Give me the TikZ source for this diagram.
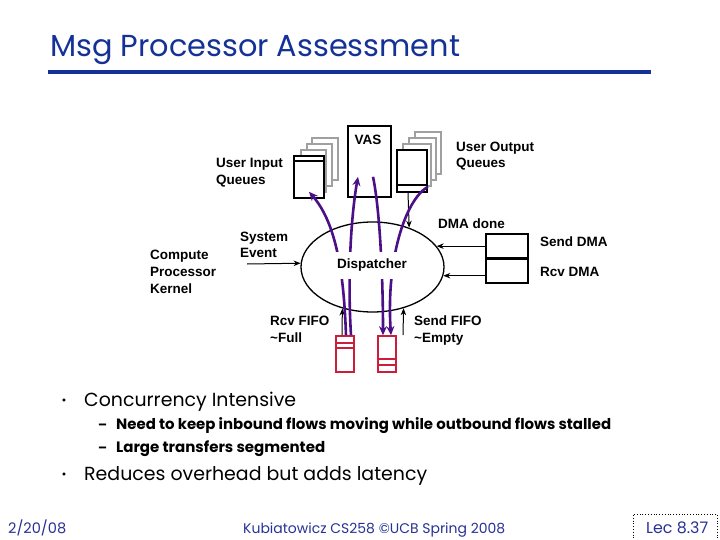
\documentclass[tikz,border=0pt]{standalone}
\usepackage{fontspec}
\usepackage{graphicx}
\setmainfont{Liberation Sans}
\newfontfamily\comicf{Poppins}
\usetikzlibrary{arrows.meta,shapes.geometric}
\definecolor{titleblue}{RGB}{20,50,150}
\definecolor{footblue}{RGB}{40,50,150}
\definecolor{flowpurple}{RGB}{75,15,135}
\definecolor{fifored}{RGB}{204,30,60}
\definecolor{stackgray}{RGB}{160,160,160}
\newcommand\fitw[2]{\resizebox{#1}{!}{#2}}
\begin{document}
\begin{tikzpicture}[x=1pt,y=-1pt,
  lbl/.style={font=\bfseries\fontsize{13.5}{17}\selectfont, inner sep=0pt, align=left, anchor=base west},
  queuebox/.style={draw, line width=1.6pt, fill=white, minimum width=30pt, minimum height=42pt, inner sep=0pt},
  ghost/.style={draw=stackgray, line width=1.6pt, fill=white},
  fifobox/.style={draw=fifored, line width=1.6pt, fill=white, minimum width=18pt, minimum height=36pt, inner sep=0pt},
  flow/.style={draw=flowpurple, line width=2.6pt, -{Stealth[length=9pt,width=8pt]}},
  sig/.style={draw=black, line width=1pt, -{Stealth[length=7pt,width=5.5pt]}},
  comictext/.style={inner sep=0pt, anchor=base west},
]
\useasboundingbox (0,0) rectangle (720,540);
\fill[white] (0,0) rectangle (720,540);

% title
\node[comictext, text=titleblue] (title) at (50,57) {\comicf\fitw{410pt}{Msg Processor Assessment}};
\draw[titleblue, line width=4pt] (48,72) -- (651,72);

% VAS
\node[draw, line width=1.6pt, minimum width=43pt, minimum height=71pt, inner sep=0pt] (vas) at (369.5,161.5) {};
\node[lbl, anchor=base] (vaslbl) at (368,145) {VAS};

% user input queues stack
\draw[ghost] (312,138) rectangle (338,180);
\draw[ghost] (307,144) rectangle (332,186);
\draw[ghost] (301,150) rectangle (326,192);
\node[queuebox] (inq) at (309,177) {};
\draw[line width=1.6pt] (294,161) -- (324,161);
\node[lbl] (inqlbl) at (216,185) {User Input\\Queues};

% user output queues stack
\draw[ghost] (415,132) rectangle (441,174);
\draw[ghost] (409,138) rectangle (436,180);
\draw[ghost] (403,144) rectangle (431,186);
\node[queuebox] (outq) at (412,171) {};
\draw[line width=1.6pt] (397,185) -- (427,185);
\node[lbl] (outqlbl) at (456,168) {User Output\\Queues};

% dispatcher ellipse
\node[draw, ellipse, line width=1.3pt, minimum width=143pt, minimum height=90pt, inner sep=0pt] (disp) at (372.5,267) {};

% DMA box
\node[draw, line width=1.6pt, minimum width=42pt, minimum height=49pt, inner sep=0pt] (dma) at (507,258.5) {};
\draw[line width=2.2pt] (dma.west) -- (dma.east);
\node[lbl] (dmadone) at (438,229) {DMA done};
\node[lbl] (senddma) at (540,247) {Send DMA};
\node[lbl] (rcvdma) at (540,276) {Rcv DMA};

% FIFOs
\node[fifobox] (rcvf) at (345,354) {};
\draw[fifored, line width=1.6pt] (336,343) -- (354,343) (336,348) -- (354,348);
\node[fifobox] (sendf) at (387,354) {};
\draw[fifored, line width=1.6pt] (378,359) -- (396,359) (378,365) -- (396,365);
\node[lbl] (rcvflbl) at (270,342) {Rcv FIFO\\\textasciitilde Full};
\node[lbl] (sendflbl) at (414,342) {Send FIFO\\\textasciitilde Empty};

% other labels
\node[lbl] (cpk) at (150,293) {Compute\\Processor\\Kernel};
\node[lbl] (sysev) at (240,258) {System\\Event};
\coordinate (sysstart) at (247,264);

% black signal arrows
\draw[sig] (sysstart) -- (disp.177.6);
\draw[sig] ([xshift=-4pt]outq.south) -- (disp.47.7);
\draw[sig] (dma.west |- disp.18.4) -- (disp.18.4);
\draw[sig] (dma.west |- disp.-7.3) -- (disp.-7.3);
\draw[sig] ([xshift=-3pt]rcvf.north) -- (disp.-126.8);
\draw[sig] ([xshift=16pt]sendf.north) -- (disp.-53.2);

% purple flows
\draw[flow] ([xshift=1pt]rcvf.north) .. controls (344,280) and (338,225) .. ([yshift=7pt]inq.south);
\draw[flow] ([xshift=6pt]rcvf.north) .. controls (347,270) and (352,210) .. ([xshift=-11.5pt,yshift=21pt]vas.south);
\draw[flow] ([xshift=3.5pt,yshift=21pt]vas.south) .. controls (380,210) and (383,280) .. ([xshift=-4pt]sendf.north);
\draw[flow] ([yshift=6pt]outq.south east) .. controls (405,200) and (386,260) .. ([xshift=4pt]sendf.north);

% dispatcher label over flows
\node[font=\bfseries\fontsize{13.5}{17}\selectfont, fill=white, inner xsep=2pt, minimum height=27pt] (displbl) at (372,265.5) {Dispatcher};

% bullets
\node[comictext, anchor=base] (dot1) at (64,404) {\comicf\fontsize{12}{14}\selectfont\textbullet};
\node[comictext] (b1) at (84,406) {\comicf\fitw{212pt}{Concurrency Intensive}};
\node[comictext] (d1) at (98,429) {\comicf\bfseries\fitw{9pt}{–}};
\node[comictext] (s1) at (116,429) {\comicf\bfseries\fitw{495pt}{Need to keep inbound flows moving while outbound flows stalled}};
\node[comictext] (d2) at (98,452) {\comicf\bfseries\fitw{9pt}{–}};
\node[comictext] (s2) at (116,452) {\comicf\bfseries\fitw{209pt}{Large transfers segmented}};
\node[comictext, anchor=base] (dot2) at (64,478) {\comicf\fontsize{12}{14}\selectfont\textbullet};
\node[comictext] (b2) at (84,480) {\comicf\fitw{343pt}{Reduces overhead but adds latency}};

% footer
\node[comictext, text=footblue] (date) at (8,533) {\comicf\fitw{58pt}{2/20/08}};
\node[comictext, text=footblue] (credit) at (243,533) {\comicf\fitw{262pt}{Kubiatowicz CS258 ©UCB Spring 2008}};
\node[draw, dotted, line width=0.8pt, minimum width=84pt, minimum height=27pt, inner sep=0pt] (lecbox) at (675,527.5) {};
\node[comictext, text=footblue] (lec) at (646,533) {\comicf\fitw{62pt}{Lec 8.37}};
\end{tikzpicture}
\end{document}
